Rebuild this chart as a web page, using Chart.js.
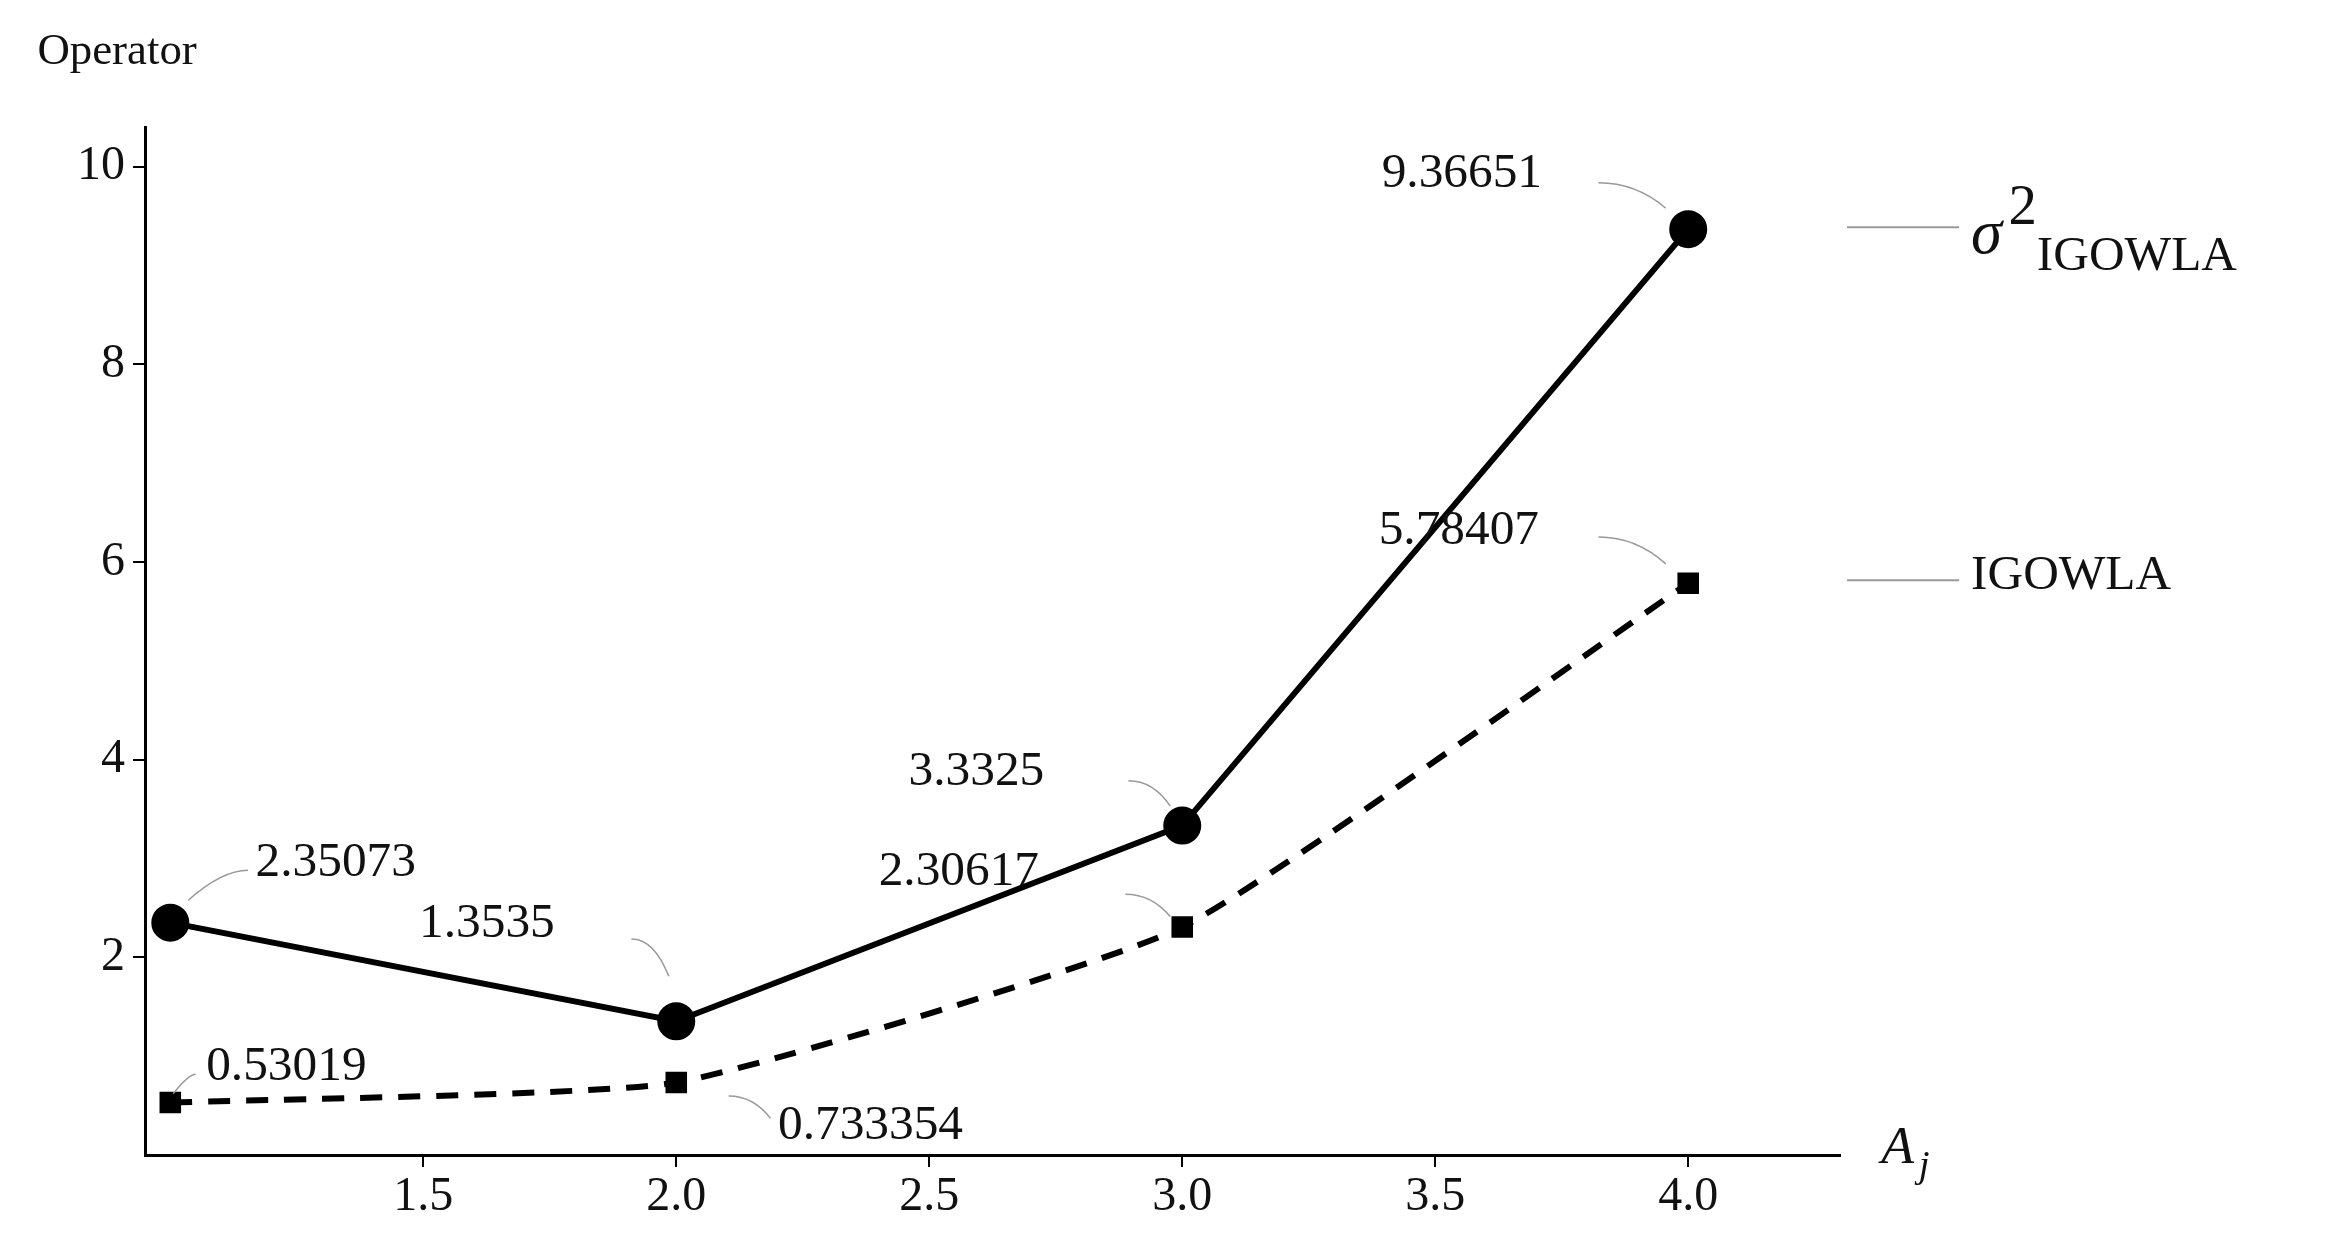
<!DOCTYPE html>
<html>
<head>
<meta charset="utf-8">
<script src="https://cdn.jsdelivr.net/npm/chart.js@4/dist/chart.umd.min.js"></script>
<style>
  html, body { margin: 0; padding: 0; background: #fff; }
  #wrap { width: 2333px; height: 1245px; }
</style>
</head>
<body>
<div id="wrap"><canvas id="chart"></canvas></div>
<script>
// Data
const xValues = [1, 2, 3, 4];
const sigmaValues = [2.35073, 1.3535, 3.3325, 9.36651];
const igowlaValues = [0.53019, 0.733354, 2.30617, 5.78407];
const sigmaLabels = ["2.35073", "1.3535", "3.3325", "9.36651"];
const igowlaLabels = ["0.53019", "0.733354", "2.30617", "5.78407"];

const S = 1.4955; // reference display scale -> page pixels
const FONT = "'Liberation Serif', 'DejaVu Serif', serif";

// label offsets from each point: [textX, textY, leaderStartX, leaderStartY, leaderEndX, leaderEndY]
const sigmaOffsets = [
    [57, -40, 52, -35, 12, -15],
    [-172, -65, -30, -55, -5, -30],
    [-183, -36, -36, -30, -8, -13],
    [-205, -37, -60, -31, -15, -14]
];
const igowlaOffsets = [
    [24, -24, 17, -19, 2, -6],
    [68, 29, 35, 9, 63, 24],
    [-203, -37, -38, -22, -8, -7],
    [-207, -35, -60, -31, -15, -13]
];

const annotate = {
    id: "annotate",
    afterDatasetsDraw(chart) {
        const ctx = chart.ctx;
        ctx.save();
        ctx.font = `${33 * S}px ${FONT}`;
        ctx.textBaseline = "middle";
        ctx.fillStyle = "#111";
        const sets = [[0, sigmaLabels, sigmaOffsets], [1, igowlaLabels, igowlaOffsets]];
        sets.forEach(([di, labels, offs]) => {
            chart.getDatasetMeta(di).data.forEach((pt, i) => {
                const o = offs[i];
                ctx.fillStyle = "#111";
                ctx.fillText(labels[i], pt.x + o[0] * S, pt.y + o[1] * S);
                ctx.strokeStyle = "#999";
                ctx.lineWidth = 1.5;
                ctx.beginPath();
                const sx = pt.x + o[2] * S, sy = pt.y + o[3] * S;
                const ex = pt.x + o[4] * S, ey = pt.y + o[5] * S;
                ctx.moveTo(sx, sy);
                ctx.quadraticCurveTo((sx + ex) / 2 + 4, sy, ex, ey);
                ctx.stroke();
            });
        });

        // legend
        const lx = 1235 * S, lx2 = 1310 * S;
        ctx.strokeStyle = "#999";
        ctx.lineWidth = 2;
        [152, 388].forEach(y => {
            ctx.beginPath();
            ctx.moveTo(lx, y * S);
            ctx.lineTo(lx2, y * S);
            ctx.stroke();
        });
        ctx.fillStyle = "#111";
        ctx.font = `italic ${42 * S}px ${FONT}`;
        ctx.fillText("σ", 1318 * S, 158 * S);
        ctx.font = `${38 * S}px ${FONT}`;
        ctx.fillText("2", 1343 * S, 140 * S);
        ctx.font = `${33 * S}px ${FONT}`;
        ctx.fillText("IGOWLA", 1362 * S, 172 * S);
        ctx.fillText("IGOWLA", 1318 * S, 385 * S);

        // axis titles
        ctx.font = `${30 * S}px ${FONT}`;
        ctx.fillText("Operator", 25 * S, 35 * S);
        ctx.font = `italic ${36 * S}px ${FONT}`;
        ctx.fillText("A", 1258 * S, 768 * S);
        ctx.font = `italic ${26 * S}px ${FONT}`;
        ctx.fillText("j", 1283 * S, 780 * S);
        ctx.restore();
    }
};

new Chart(document.getElementById("chart"), {
    type: "line",
    data: {
        datasets: [
            {
                label: "σ2 IGOWLA",
                data: xValues.map((x, i) => ({ x, y: sigmaValues[i] })),
                borderColor: "#000",
                backgroundColor: "#000",
                borderWidth: 6,
                pointRadius: 16,
                pointStyle: "circle",
                tension: 0
            },
            {
                label: "IGOWLA",
                data: xValues.map((x, i) => ({ x, y: igowlaValues[i] })),
                borderColor: "#000",
                backgroundColor: "#000",
                borderWidth: 6,
                borderDash: [22, 16],
                pointRadius: 11,
                pointStyle: "rect",
                tension: 0.15
            }
        ]
    },
    options: {
        responsive: true,
        maintainAspectRatio: false,
        animation: false,
        layout: { padding: { top: 127, right: 493, bottom: 0, left: 0 } },
        plugins: { legend: { display: false }, tooltip: { enabled: false } },
        scales: {
            x: {
                type: "linear",
                min: 0.95,
                max: 4.3,
                afterFit: s => { s.height = 90; },
                afterBuildTicks: s => { s.ticks = [1.5, 2, 2.5, 3, 3.5, 4].map(v => ({ value: v })); },
                grid: { display: true, drawOnChartArea: false, drawTicks: true, tickLength: 12, color: "#000", lineWidth: 2 },
                border: { color: "#000", width: 3 },
                ticks: {
                    color: "#111",
                    font: { family: FONT, size: 48 },
                    padding: 2,
                    callback: v => v.toFixed(1)
                }
            },
            y: {
                min: 0,
                max: 10.4,
                afterFit: s => { s.width = 145; },
                afterBuildTicks: s => { s.ticks = [2, 4, 6, 8, 10].map(v => ({ value: v })); },
                grid: { display: true, drawOnChartArea: false, drawTicks: true, tickLength: 12, color: "#000", lineWidth: 2 },
                border: { color: "#000", width: 3 },
                ticks: {
                    color: "#111",
                    font: { family: FONT, size: 48 },
                    padding: 8
                }
            }
        }
    },
    plugins: [annotate]
});
</script>
</body>
</html>
